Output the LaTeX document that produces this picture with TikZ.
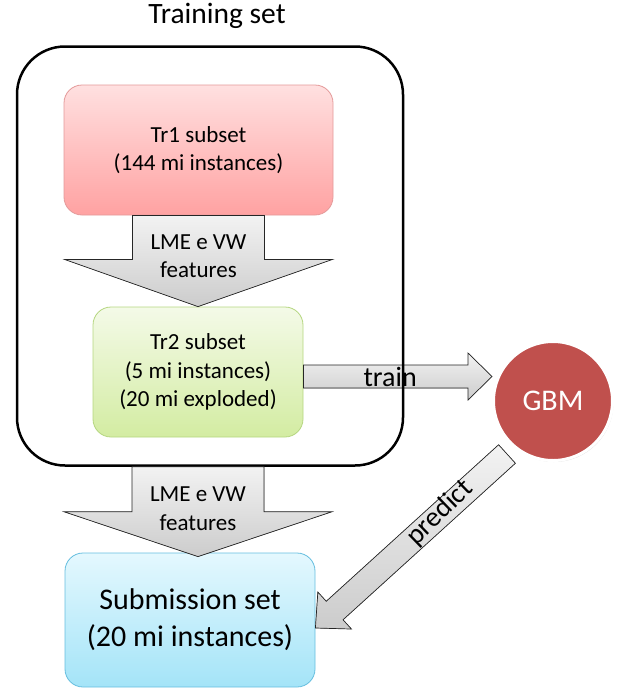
\documentclass[tikz,border=0pt]{standalone}
\usepackage{fontspec}
\setmainfont{Carlito}
\usetikzlibrary{calc,positioning,shadows}
\definecolor{trtop}{HTML}{FFE0E0}
\definecolor{trbot}{HTML}{FFA2A2}
\definecolor{trline}{HTML}{E49A9A}
\definecolor{grtop}{HTML}{F4FAE8}
\definecolor{grbot}{HTML}{D3ECA2}
\definecolor{grline}{HTML}{B5D680}
\definecolor{bltop}{HTML}{E4F8FE}
\definecolor{blbot}{HTML}{A4E4F8}
\definecolor{blline}{HTML}{66BEDF}
\definecolor{gbmred}{HTML}{C0504D}
\begin{document}
\begin{tikzpicture}[x=1pt,y=-1pt,
    subset/.style={draw, rounded corners=18pt, align=center, line width=0.8pt, inner sep=0pt,
      font=\fontsize{23}{28.5}\selectfont},
    blockarrow/.style={draw=black!85, line width=0.7pt, top color=gray!10, bottom color=gray!40},
    arrowtext/.style={align=center, font=\fontsize{23}{28.5}\selectfont}]
  \useasboundingbox (0,0) rectangle (631,691);
  % Caixas dos subconjuntos
  \node[subset, top color=trtop, bottom color=trbot, draw=trline,
    minimum width=269pt, minimum height=130pt] (tr1) at (198.5,150) {Tr1 subset\\(144 mi instances)};
  \node[subset, top color=grtop, bottom color=grbot, draw=grline,
    minimum width=210pt, minimum height=130pt] (tr2) at (198,372) {Tr2 subset\\(5 mi instances)\\(20 mi exploded)};
  \node[subset, top color=bltop, bottom color=blbot, draw=blline,
    minimum width=250pt, minimum height=134pt, font=\fontsize{30}{37}\selectfont] (subm) at (190,620) {Submission set\\(20 mi instances)};
  % Modelo
  \node[circle, fill=gbmred, draw=white, line width=3pt, minimum size=119pt, text=white,
    font=\fontsize{30}{36}\selectfont, drop shadow={opacity=0.25, shadow xshift=1pt, shadow yshift=-1.5pt}] (gbm) at (553,401) {GBM};
  % Seta train
  \coordinate (ttail) at ($(tr2.east)+(0,4.5)$);
  \coordinate (ttip) at (ttail -| gbm.west);
  \filldraw[blockarrow] ($(ttail)+(0,-11.5)$) -- ($(ttip)+(-24,-11.5)$) -- ($(ttip)+(-24,-23.5)$) -- (ttip)
    -- ($(ttip)+(-24,23.5)$) -- ($(ttip)+(-24,11.5)$) -- ($(ttail)+(0,11.5)$) -- cycle;
  \node[font=\fontsize{28}{34}\selectfont] (train) at ($(ttail)!0.46!(ttip)$) {train};
  % Conjunto de treino
  \node[draw, line width=2.5pt, rounded corners=48pt, minimum width=386pt, minimum height=419pt] (trainset) at (210,256) {};
  \node[font=\fontsize{29.5}{35}\selectfont] (title) at (217,16) {Training set};
  % Setas de features
  \filldraw[blockarrow] ($(tr1.south)+(-66,0)$) -- ($(tr1.south)+(66,0)$) -- ($(tr1.south)+(66,44)$) -- ($(tr1.south)+(134,44)$)
    -- (tr2.north) -- ($(tr1.south)+(-134,44)$) -- ($(tr1.south)+(-66,44)$) -- cycle;
  \node[arrowtext] (feat1) at ($(tr1.south)+(0,41)$) {LME e VW\\features};
  \coordinate (ftail) at (tr2.south |- trainset.south);
  \coordinate (ftip) at ($(tr2.south |- subm.north)+(0,4)$);
  \filldraw[blockarrow] ($(ftail)+(-66,0)$) -- ($(ftail)+(66,0)$) -- ($(ftail)+(66,45)$) -- ($(ftail)+(134,45)$)
    -- (ftip) -- ($(ftail)+(-134,45)$) -- ($(ftail)+(-66,45)$) -- cycle;
  \node[arrowtext] (feat2) at ($(ftail)+(0,42)$) {LME e VW\\features};
  % Seta predict
  \coordinate (ptip) at ($(subm.east)+(0,8)$);
  \coordinate (ptail) at ($(gbm.center)+(-46,53)$);
  \coordinate (phb) at ($(ptip)!26pt!(ptail)$);
  \filldraw[blockarrow] ($(ptail)!12.5pt!90:(ptip)$) -- ($(phb)!12.5pt!90:(ptip)$) -- ($(phb)!25pt!90:(ptip)$) -- (ptip)
    -- ($(phb)!25pt!-90:(ptip)$) -- ($(phb)!12.5pt!-90:(ptip)$) -- ($(ptail)!12.5pt!-90:(ptip)$) -- cycle;
  \node[font=\fontsize{28}{34}\selectfont, rotate=44] (predict) at (440,513) {predict};
\end{tikzpicture}
\end{document}
